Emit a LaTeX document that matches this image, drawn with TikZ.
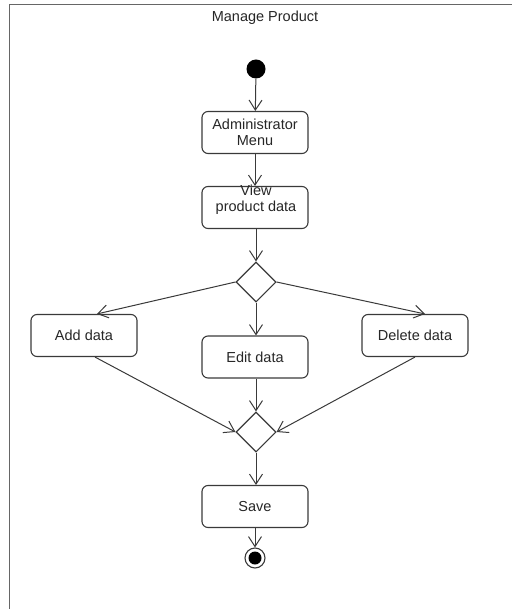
\documentclass[tikz,border=0pt]{standalone}
\usepackage{fontspec}
\setmainfont{Liberation Sans}
\usetikzlibrary{arrows.meta,shapes.geometric}
\definecolor{ink}{HTML}{3A3A3A}
\definecolor{framec}{HTML}{666666}
\begin{document}
\begin{tikzpicture}[x=1pt,y=-1pt,
  font=\fontsize{14.5}{17}\selectfont,
  activity/.style={draw=ink,line width=1.1pt,rounded corners=6pt,
    minimum width=106pt,minimum height=42pt,inner sep=0pt,align=center,text=black!85},
  choice/.style={draw=ink,line width=1.1pt,diamond,aspect=1,
    minimum width=40pt,minimum height=40pt,inner sep=0pt},
  flow/.style={draw=ink,line width=1pt,
    -{Straight Barb[length=10pt,width=13pt,line width=1pt]}}]
\useasboundingbox (0,0) rectangle (512,609);
% frame
\draw[framec,line width=1.6pt] (9.5,609) -- (9.5,4.5) -- (512,4.5);
\node[text=black!85] (title) at (265,18) {Manage Product};

% initial node
\node[circle,fill=black,inner sep=0pt,minimum size=19pt] (start) at (256,69) {};

% activities
\node[activity] (admin) at (255,132.5) {Administrator\\[-1pt]Menu};
\node[activity] (view) at (255,207.5) {};
\node[text=black!85,align=center,font=\fontsize{14.5}{16}\selectfont] (viewtext) at (256,200) {View\\product data};
\node[choice] (split) at (256,282) {};
\node[activity] (add) at (84,335.5) {Add data};
\node[activity] (edit) at (255,357) {Edit data};
\node[activity] (del) at (415,335.5) {Delete data};
\node[choice] (merge) at (256,432) {};
\node[activity] (save) at (255,506.5) {Save};

% final node
\node[circle,draw=ink,line width=1.1pt,minimum size=20pt,inner sep=0pt] (end) at (255,558) {};
\node[circle,fill=black,inner sep=0pt,minimum size=13pt] (endcore) at (255,558) {};

% control flow
\draw[flow] (start) -- (admin);
\draw[flow] (admin) -- (view);
\draw[flow] (view.south -| split) -- (split.north);
\draw[flow] (split.west) -- ([xshift=13pt]add.north);
\draw[flow] (split.south) -- (split.south |- edit.north);
\draw[flow] (split.east) -- ([xshift=10pt]del.north);
\draw[flow] ([xshift=11pt]add.south) -- (merge.west);
\draw[flow] (edit.south -| merge) -- (merge.north);
\draw[flow] (del.south) -- (merge.east);
\draw[flow] (merge.south) -- (merge.south |- save.north);
\draw[flow] (save) -- (end);
\end{tikzpicture}
\end{document}
